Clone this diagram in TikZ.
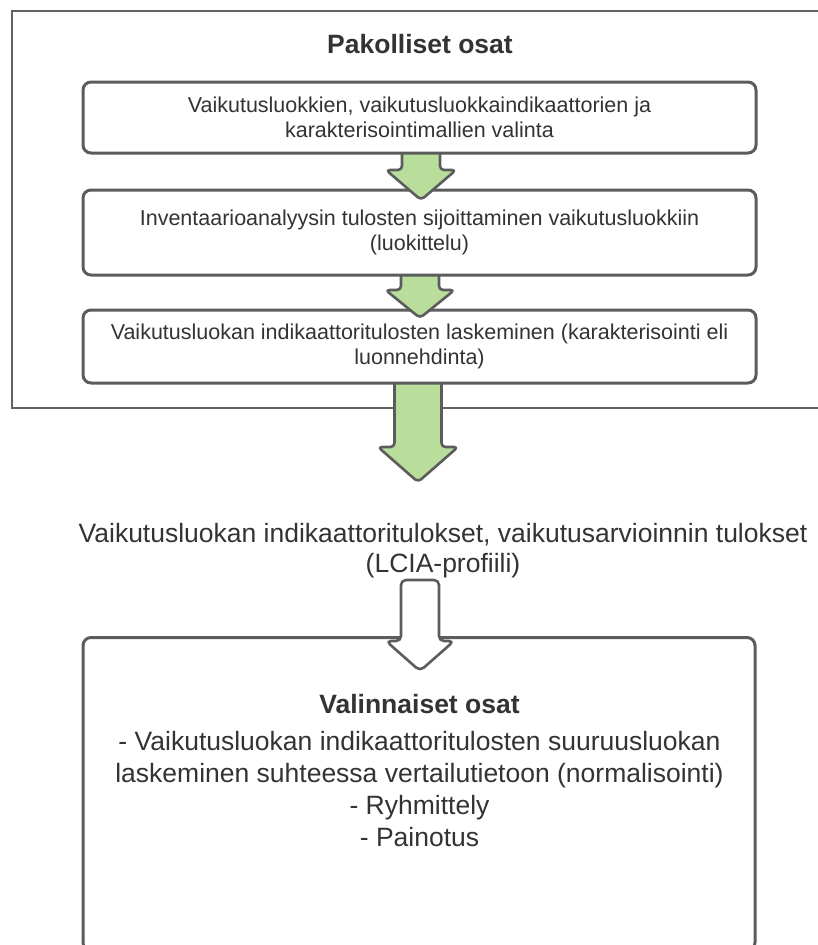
\documentclass[tikz,border=0pt]{standalone}
\usepackage{fontspec}
\setmainfont{Liberation Sans}
\usetikzlibrary{calc}
\definecolor{edge}{HTML}{5C5C5C}
\definecolor{frameedge}{HTML}{626262}
\definecolor{txt}{HTML}{333333}
\definecolor{leaf}{HTML}{B9DE9C}
\tikzset{
  stepbox/.style={draw=edge, line width=3pt, rounded corners=8pt, fill=white,
    minimum width=673pt, align=center, text=txt,
    font=\fontsize{21.5}{25}\selectfont, inner sep=0pt},
  bigbox/.style={draw=edge, line width=3pt, rounded corners=8pt, fill=white,
    minimum width=672pt, inner sep=0pt},
  framebox/.style={draw=frameedge, line width=2.2pt, inner sep=0pt},
  headtext/.style={text=txt, font=\bfseries\fontsize{26.5}{30}\selectfont},
  bodytext/.style={text=txt, align=center, font=\fontsize{26.5}{32}\selectfont},
  greenarrow/.style={draw=edge, line width=2.6pt, fill=leaf, rounded corners=4pt, line join=round},
  whitearrow/.style={draw=edge, line width=2.6pt, fill=white, rounded corners=5pt, line join=round},
}
% #1 style, #2 shaft start, #3 tip, #4 shaft half width, #5 head half width, #6 head length
\newcommand\blockarrow[6]{%
  \path[#1] let \p1=(#2), \p2=(#3) in
    (\x2-#4pt,\y1) -- (\x2-#4pt,\y2+#6pt) -- (\x2-#5pt,\y2+#6pt) -- (\x2,\y2)
    -- (\x2+#5pt,\y2+#6pt) -- (\x2+#4pt,\y2+#6pt) -- (\x2+#4pt,\y1) -- cycle;}
\begin{document}
\begin{tikzpicture}[x=1pt,y=-1pt]
\useasboundingbox (0,0) rectangle (817,945);
\fill[white] (0,0) rectangle (817,945);

% outer frame
\node[framebox, anchor=north west, minimum width=830pt, minimum height=397pt] (frame) at (11,10) {};
\node[headtext] (t1) at (420,44) {Pakolliset osat};

% arrow ends
\coordinate (a3s) at (418,372);
\coordinate (a3t) at (418,482);
\coordinate (a2s) at (420,262);
\coordinate (a2t) at (420,318);
\coordinate (a1s) at (421,140);
\coordinate (a1t) at (421,200);
\coordinate (a4s) at (420,580);
\coordinate (a4t) at (420,671);

\blockarrow{greenarrow}{a3s}{a3t}{23.5}{40}{35}
\node[stepbox, minimum height=73pt] (b3) at (419.5,346.5)
  {Vaikutusluokan indikaattoritulosten laskeminen (karakterisointi eli\\luonnehdinta)};
\blockarrow{greenarrow}{a2s}{a2t}{19}{34.5}{28}
\node[stepbox, minimum height=85pt] (b2) at (419.5,232.5)
  {Inventaarioanalyysin tulosten sijoittaminen vaikutusluokkiin\\(luokittelu)};
\blockarrow{greenarrow}{a1s}{a1t}{19}{35}{30}
\node[stepbox, minimum height=71pt] (b1) at (419.5,117.5)
  {Vaikutusluokkien, vaikutusluokkaindikaattorien ja\\karakterisointimallien valinta};

% middle result text
\node[text=txt, align=center, font=\fontsize{26.5}{30}\selectfont] (res) at (443,551)
  {Vaikutusluokan indikaattoritulokset, vaikutusarvioinnin tulokset\\(LCIA-profiili)};

% optional parts box
\node[bigbox, anchor=north, minimum height=313pt] (b4) at (419,636) {};
\blockarrow{whitearrow}{a4s}{a4t}{19}{34}{30}
\node[headtext] (t2) at (419.5,704) {Valinnaiset osat};
\node[bodytext] (opt) at (419.5,789)
  {- Vaikutusluokan indikaattoritulosten suuruusluokan\\
   laskeminen suhteessa vertailutietoon (normalisointi)\\
   - Ryhmittely\\
   - Painotus};
\end{tikzpicture}
\end{document}
